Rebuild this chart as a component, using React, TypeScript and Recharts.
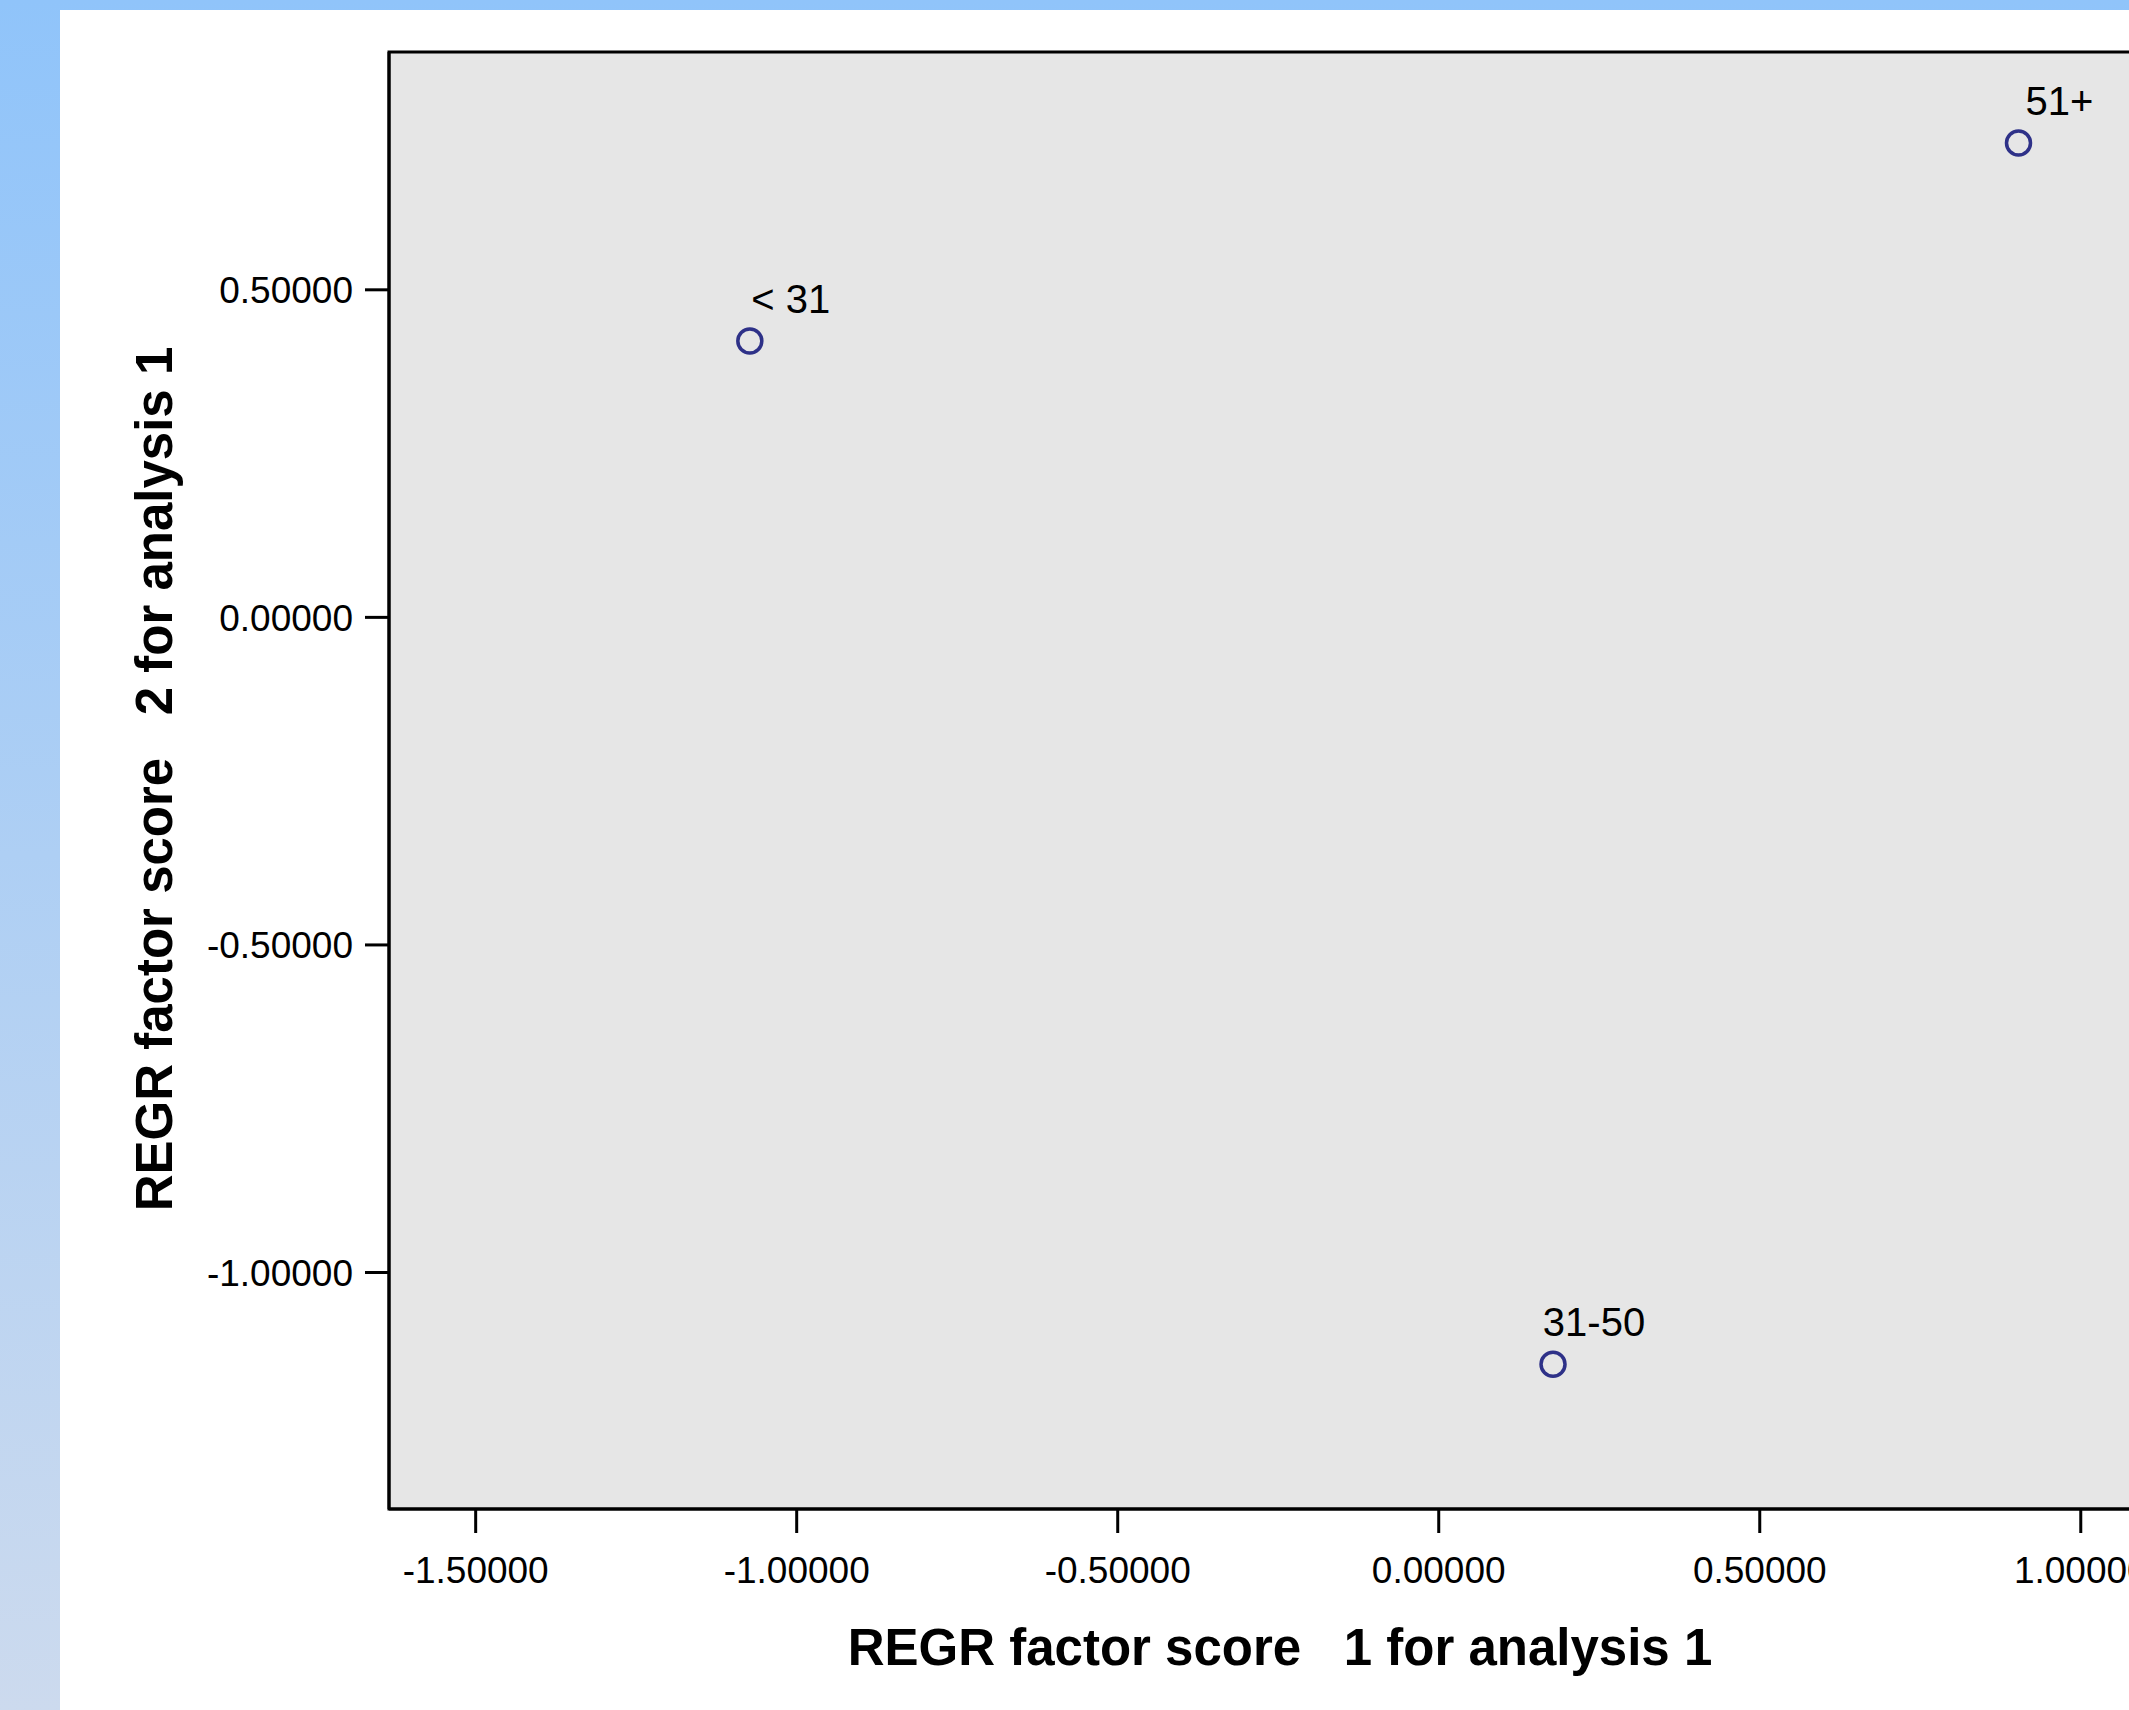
import React from 'react';
import { ScatterChart, Scatter, XAxis, YAxis, ReferenceArea, LabelList, Label } from 'recharts';

const groups = ['< 31', '31-50', '51+'];
const factor1 = [-1.073, 0.178, 0.903];
const factor2 = [0.422, -1.14, 0.724];
const xTicks = [-1.5, -1.0, -0.5, 0.0, 0.5, 1.0];
const yTicks = [-1.0, -0.5, 0.0, 0.5];
const xDomain: [number, number] = [-1.635, 1.248];
const yDomain: [number, number] = [-1.361, 0.863];
const xTitle = 'REGR factor score   1 for analysis 1';
const yTitle = 'REGR factor score   2 for analysis 1';

const points = groups.map((g, i) => ({ name: g, x: factor1[i], y: factor2[i] }));

const FONT = '"Liberation Sans", Arial, sans-serif';
const MARK = '#2E3188';

const fmt = (v: number) => v.toFixed(5);

const Marker = (props: any) => {
  const { cx, cy } = props;
  if (cx == null || cy == null) return null;
  return <circle cx={cx} cy={cy} r={12} fill="none" stroke={MARK} strokeWidth={3.5} />;
};

const PointLabel = (props: any) => {
  const { x, y, width, height, value } = props;
  const cx = x + (width || 0) / 2;
  const cy = y + (height || 0) / 2;
  return (
    <text x={cx + 41} y={cy - 28} textAnchor="middle" fontSize={40} fontFamily={FONT} fill="#000">
      {value}
    </text>
  );
};

export default function App() {
  return (
    <div
      style={{
        position: 'absolute',
        left: 0,
        top: 0,
        width: 2129,
        height: 1710,
        overflow: 'hidden',
        background: 'linear-gradient(to bottom, #90C4FA 0%, #CCDAEE 100%)',
      }}
    >
      <div style={{ position: 'absolute', left: 60, top: 10, width: 2069, height: 1700, background: '#FFFFFF' }} />
      <div style={{ position: 'absolute', left: 0, top: 0 }}>
        <ScatterChart width={2240} height={1710} margin={{ top: 52, right: 0, bottom: 0, left: 0 }}>
          <XAxis
            type="number"
            dataKey="x"
            domain={xDomain}
            ticks={xTicks}
            tickFormatter={fmt}
            allowDataOverflow
            height={201}
            axisLine={{ stroke: '#000', strokeWidth: 3 }}
            tickLine={{ stroke: '#000', strokeWidth: 3 }}
            tickSize={24}
            tickMargin={24}
            tick={{ fill: '#000', fontSize: 37, fontFamily: FONT }}
          >
            <Label
              content={() => (
                <text
                  x={1280}
                  y={1665}
                  textAnchor="middle"
                  fontSize={51}
                  fontWeight="bold"
                  fontFamily={FONT}
                  fill="#000"
                  style={{ whiteSpace: 'pre' }}
                >
                  {xTitle}
                </text>
              )}
            />
          </XAxis>
          <YAxis
            type="number"
            dataKey="y"
            domain={yDomain}
            ticks={yTicks}
            tickFormatter={fmt}
            allowDataOverflow
            width={389}
            axisLine={{ stroke: '#000', strokeWidth: 3 }}
            tickLine={{ stroke: '#000', strokeWidth: 3 }}
            tickSize={24}
            tickMargin={12}
            tick={{ fill: '#000', fontSize: 37, fontFamily: FONT }}
          >
            <Label
              content={() => (
                <text
                  x={172}
                  y={779}
                  transform="rotate(-90, 172, 779)"
                  textAnchor="middle"
                  fontSize={51}
                  fontWeight="bold"
                  fontFamily={FONT}
                  fill="#000"
                  style={{ whiteSpace: 'pre' }}
                >
                  {yTitle}
                </text>
              )}
            />
          </YAxis>
          <ReferenceArea
            x1={xDomain[0]}
            x2={xDomain[1]}
            y1={yDomain[0]}
            y2={yDomain[1]}
            fill="#E6E6E6"
            fillOpacity={1}
            stroke="#000"
            strokeWidth={3}
            ifOverflow="visible"
          />
          <Scatter data={points} shape={<Marker />} isAnimationActive={false}>
            <LabelList dataKey="name" content={<PointLabel />} />
          </Scatter>
        </ScatterChart>
      </div>
    </div>
  );
}
